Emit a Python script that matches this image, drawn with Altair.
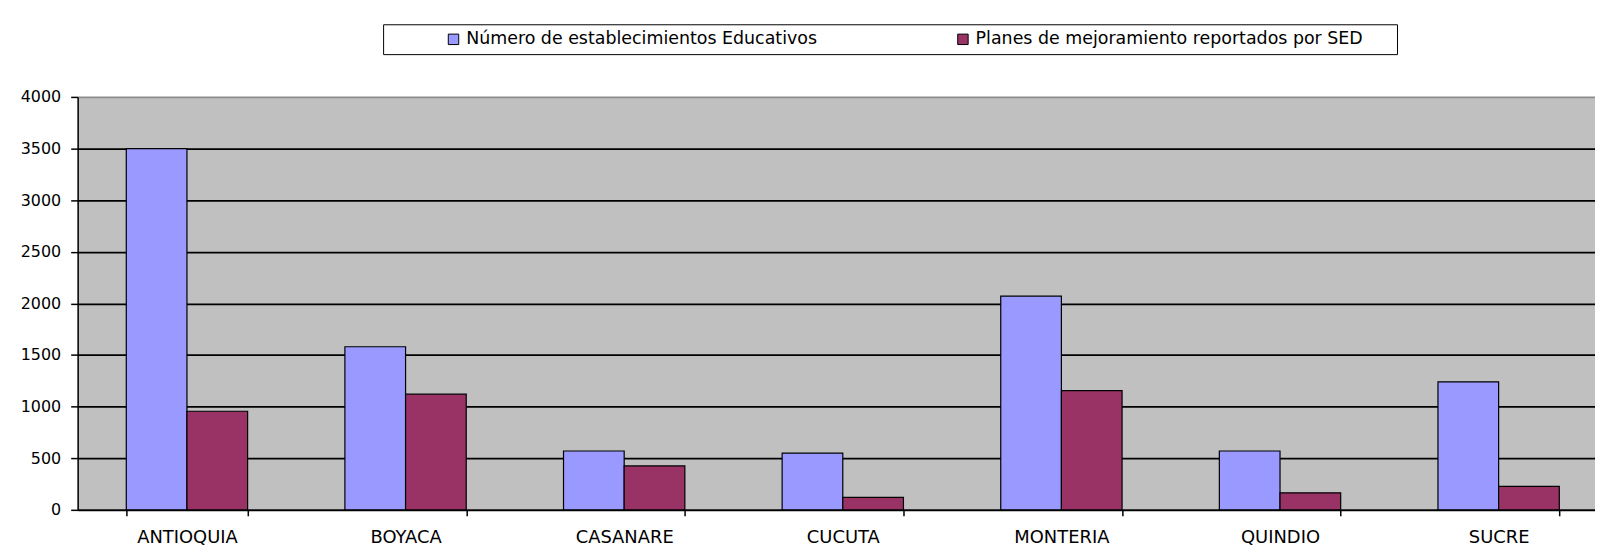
import altair as alt
import pandas as pd

categories = ["ANTIOQUIA", "BOYACA", "CASANARE", "CUCUTA", "MONTERIA", "QUINDIO", "SUCRE"]
series_names = ["Número de establecimientos Educativos", "Planes de mejoramiento reportados por SED"]
establecimientos = [3500, 1580, 570, 550, 2070, 570, 1240]
planes = [955, 1120, 425, 120, 1155, 165, 228]
series_colors = ["#9999FF", "#993366"]
y_ticks = [0, 500, 1000, 1500, 2000, 2500, 3000, 3500, 4000]

rows = []
for c, a, b in zip(categories, establecimientos, planes):
    rows.append({"region": c, "serie": series_names[0], "valor": a})
    rows.append({"region": c, "serie": series_names[1], "valor": b})
df = pd.DataFrame(rows)

pad = "\u00a0" * 5 + "\u200b"
label2_expr = "datum.label == '" + series_names[1] + "' ? datum.label + '" + pad + "' : datum.label"

chart = alt.Chart(df).mark_bar(stroke="black", strokeWidth=1.2).encode(
    x=alt.X(
        "region:N",
        sort=categories,
        title=None,
        scale=alt.Scale(paddingInner=0.445, paddingOuter=0.2225),
        axis=alt.Axis(
            labelAngle=0,
            labelFont="DejaVu Sans",
            labelFontSize=18,
            labelColor="black",
            labelPadding=13,
            tickBand="extent",
            tickSize=6,
            tickColor="black",
            tickWidth=1.5,
            domainColor="black",
            domainWidth=1.5,
            grid=False,
        ),
    ),
    xOffset=alt.XOffset("serie:N", sort=series_names, scale=alt.Scale(paddingInner=0, paddingOuter=0)),
    y=alt.Y(
        "valor:Q",
        title=None,
        scale=alt.Scale(domain=[0, 4000], nice=False),
        axis=alt.Axis(
            values=y_ticks,
            format="d",
            labelFont="DejaVu Sans",
            labelFontSize=16,
            labelColor="black",
            labelPadding=10,
            tickSize=7,
            tickColor="black",
            tickWidth=1.5,
            domainColor="black",
            domainWidth=1.5,
            grid=True,
            gridColor={"condition": {"test": "datum.value == 4000", "value": "#8c8c8c"}, "value": "black"},
            gridWidth=1.8,
            gridOpacity=1,
        ),
    ),
    color=alt.Color(
        "serie:N",
        sort=series_names,
        scale=alt.Scale(domain=series_names, range=series_colors),
        legend=alt.Legend(
            title="\u00a0\u200b",
            titleOrient="left",
            titleFontSize=6,
            titlePadding=56,
            orient="none",
            legendX=307,
            legendY=-73,
            direction="horizontal",
            columns=2,
            columnPadding=137,
            padding=6,
            strokeColor="black",
            fillColor="white",
            symbolType="square",
            symbolSize=110,
            symbolStrokeColor="black",
            symbolStrokeWidth=1,
            labelFont="DejaVu Sans",
            labelFontSize=17.5,
            labelColor="black",
            labelOffset=4,
            labelLimit=0,
            labelExpr=label2_expr,
        ),
    ),
).properties(
    width=1538,
    height=415,
    autosize=alt.AutoSizeParams(type="none"),
    padding={"left": 70, "top": 88, "right": -13, "bottom": 38},
    background="white",
).configure_view(
    fill="#C0C0C0",
    stroke=None,
)

chart.save("out.html", embed_options={"renderer": "svg", "actions": False})
